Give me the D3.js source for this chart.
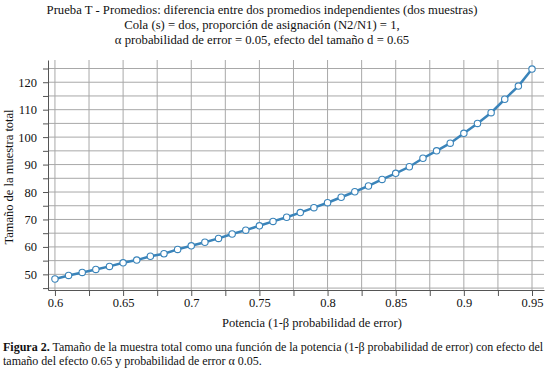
<!DOCTYPE html>
<html>
<head>
<meta charset="utf-8">
<script src="https://cdn.jsdelivr.net/npm/d3@7"></script>
<style>
    body { margin: 0; background: #fff; }
    text { font-family: "Liberation Serif", "Times New Roman", serif; fill: #111; }
</style>
</head>
<body>
<div id="wrapper"></div>
<script>
// potencia (1-β) y tamaño total de la muestra
const power = [0.60, 0.61, 0.62, 0.63, 0.64, 0.65, 0.66, 0.67, 0.68, 0.69,
               0.70, 0.71, 0.72, 0.73, 0.74, 0.75, 0.76, 0.77, 0.78, 0.79,
               0.80, 0.81, 0.82, 0.83, 0.84, 0.85, 0.86, 0.87, 0.88, 0.89,
               0.90, 0.91, 0.92, 0.93, 0.94, 0.95];
const totalSize = [48.3, 49.6, 50.7, 51.8, 52.9, 54.2, 55.2, 56.6, 57.5, 59.1,
                   60.4, 61.7, 63.1, 64.7, 66.1, 67.7, 69.3, 70.8, 72.5, 74.3,
                   76.1, 78.1, 80.1, 82.2, 84.6, 86.8, 89.2, 92.3, 95.0, 97.8,
                   101.4, 105.0, 108.9, 113.8, 118.6, 124.8];

const xTickLabels = [0.6, 0.65, 0.7, 0.75, 0.8, 0.85, 0.9, 0.95];
const xGridValues = [0.6, 0.625, 0.65, 0.675, 0.7, 0.725, 0.75, 0.775, 0.8,
                     0.825, 0.85, 0.875, 0.9, 0.925, 0.95];
const yTickLabels = [50, 60, 70, 80, 90, 100, 110, 120];
const yGridValues = [45, 50, 55, 60, 65, 70, 75, 80, 85, 90, 95, 100, 105, 110, 115, 120, 125];

const titleLines = [
    "Prueba T - Promedios: diferencia entre dos promedios independientes (dos muestras)",
    "Cola (s) = dos, proporción de asignación (N2/N1) = 1,",
    "α probabilidad de error = 0.05, efecto del tamaño d = 0.65"
];
const xLabel = "Potencia (1-β probabilidad de error)";
const yLabel = "Tamaño de la muestra total";
const captionBold = "Figura 2.";
const captionLine1 = " Tamaño de la muestra total como una función de la potencia (1-β probabilidad de error) con efecto del";
const captionLine2 = "tamaño del efecto 0.65 y probabilidad de error α 0.05.";

const dimension = {
    width: 545,
    height: 374,
    margin: { top: 60, left: 48, bottom: 84, right: 1 }
};
dimension.boundedWidth = dimension.width - dimension.margin.left - dimension.margin.right;
dimension.boundedHeight = dimension.height - dimension.margin.top - dimension.margin.bottom;

const svg = d3.select("#wrapper").append("svg")
    .attr("width", dimension.width)
    .attr("height", dimension.height);

const bounds = svg.append("g")
    .attr("transform", `translate(${dimension.margin.left},${dimension.margin.top})`);

const xScaler = d3.scaleLinear()
    .domain([0.5949, 0.9588])
    .range([0, dimension.boundedWidth]);

const yScaler = d3.scaleLinear()
    .domain([44.3, 128.1])
    .range([dimension.boundedHeight, 0]);

// rejilla
bounds.append("g").selectAll("line")
    .data(yGridValues)
    .join("line")
    .attr("x1", 0)
    .attr("x2", dimension.boundedWidth)
    .attr("y1", d => yScaler(d))
    .attr("y2", d => yScaler(d))
    .attr("stroke", "#a8a8a8")
    .attr("stroke-width", 1);

bounds.append("g").selectAll("line")
    .data(xGridValues)
    .join("line")
    .attr("x1", d => xScaler(d))
    .attr("x2", d => xScaler(d))
    .attr("y1", 0)
    .attr("y2", dimension.boundedHeight)
    .attr("stroke", "#a8a8a8")
    .attr("stroke-width", 1);

// ejes
const xAxisGen = d3.axisBottom(xScaler)
    .tickValues(xGridValues)
    .tickSize(6)
    .tickSizeOuter(0)
    .tickFormat(d => xTickLabels.some(v => Math.abs(v - d) < 1e-9) ? d3.format("")(+d.toFixed(2)) : "");
const xAxis = bounds.append("g")
    .attr("transform", `translate(0,${dimension.boundedHeight})`)
    .call(xAxisGen);

const yAxisGen = d3.axisLeft(yScaler)
    .tickValues(yGridValues)
    .tickSize(5)
    .tickSizeOuter(0)
    .tickFormat(d => yTickLabels.includes(d) ? d : "");
const yAxis = bounds.append("g").call(yAxisGen);

[xAxis, yAxis].forEach(ax => {
    ax.select(".domain").attr("stroke", "#555");
    ax.selectAll(".tick line").attr("stroke", "#555");
    ax.selectAll(".tick text")
        .attr("font-size", "12.5px")
        .attr("font-family", "Liberation Serif, serif")
        .attr("fill", "#111");
});
xAxis.selectAll(".tick text").attr("y", 8);
yAxis.selectAll(".tick text").attr("x", -11);

// curva
const lineGen = d3.line()
    .x((d, i) => xScaler(power[i]))
    .y(d => yScaler(d));

bounds.append("path")
    .datum(totalSize)
    .attr("d", lineGen)
    .attr("fill", "none")
    .attr("stroke", "#3a84ba")
    .attr("stroke-width", 2.5);

bounds.append("g").selectAll("circle")
    .data(totalSize)
    .join("circle")
    .attr("cx", (d, i) => xScaler(power[i]))
    .attr("cy", d => yScaler(d))
    .attr("r", 3.2)
    .attr("fill", "#fff")
    .attr("stroke", "#3a84ba")
    .attr("stroke-width", 1.1);

// títulos
svg.append("g").selectAll("text")
    .data(titleLines)
    .join("text")
    .attr("x", 262)
    .attr("y", (d, i) => 13.5 + i * 15)
    .attr("text-anchor", "middle")
    .attr("font-size", "12.7px")
    .text(d => d);

svg.append("text")
    .attr("x", dimension.margin.left + dimension.boundedWidth / 2 + 16)
    .attr("y", 327)
    .attr("text-anchor", "middle")
    .attr("font-size", "12.5px")
    .text(xLabel);

svg.append("text")
    .attr("transform", `translate(13,${dimension.margin.top + dimension.boundedHeight / 2 + 2}) rotate(-90)`)
    .attr("text-anchor", "middle")
    .attr("font-size", "12.5px")
    .text(yLabel);

// pie de figura
const cap1 = svg.append("text")
    .attr("x", 3)
    .attr("y", 351)
    .attr("font-size", "12px");
cap1.append("tspan").attr("font-weight", "bold").text(captionBold);
cap1.append("tspan").text(captionLine1);

svg.append("text")
    .attr("x", 3)
    .attr("y", 365)
    .attr("font-size", "12px")
    .text(captionLine2);
</script>
</body>
</html>
